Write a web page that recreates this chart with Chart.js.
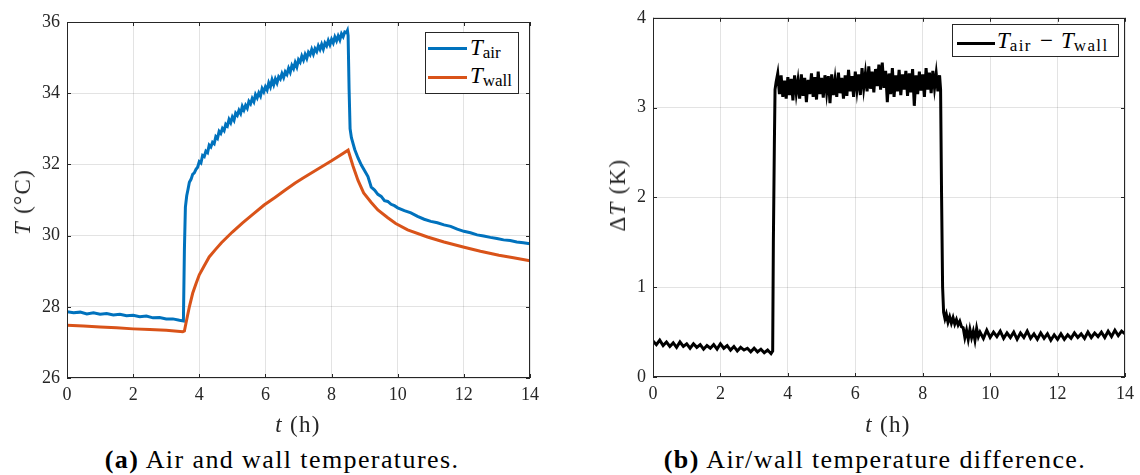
<!DOCTYPE html>
<html>
<head>
<meta charset="utf-8">
<script src="https://cdn.jsdelivr.net/npm/chart.js@4/dist/chart.umd.min.js"></script>
<style>
  html, body { margin: 0; padding: 0; background: #fff; }
  body { width: 1140px; height: 475px; position: relative; overflow: hidden;
         font-family: 'Liberation Serif', 'DejaVu Serif', serif; color: #262626; }
  .panel { position: absolute; top: 0; width: 560px; height: 430px; }
  .panel canvas { display: block; }
  .txt { position: absolute; white-space: nowrap; transform: translate(-50%, -50%); }
  .ytitle { transform: translate(-50%, -50%) rotate(-90deg); }
  .axt { font-size: 23px; letter-spacing: 1.3px; }
  .legend { position: absolute; background: #fff; border: 1px solid #262626; box-sizing: border-box; }
  .swatch { position: absolute; height: 3px; }
  .ltext { position: absolute; font-size: 23px; line-height: 1; white-space: nowrap; color: #000; }
  sub { font-size: 17px; font-style: normal; vertical-align: -3px; line-height: 0; }
  .wide sub { letter-spacing: 1.4px; }
  .minus { margin: 0 8px; }
  .caption { font-size: 26px; letter-spacing: 1.4px; color: #000; }
</style>
</head>
<body>

<div class="panel" style="left:0"><canvas id="chartA" width="560" height="430"></canvas></div>
<div class="panel" style="left:580px"><canvas id="chartB" width="560" height="430"></canvas></div>

<!-- axis titles -->
<div class="txt ytitle axt" style="left:23px; top:202px"><i>T</i> (°C)</div>
<div class="txt axt" style="left:298px; top:425px"><i>t</i> (h)</div>
<div class="txt ytitle axt" style="left:618px; top:195px">Δ<i>T</i> (K)</div>
<div class="txt axt" style="left:888px; top:425px"><i>t</i> (h)</div>

<!-- legends -->
<div class="legend" style="left:425px; top:32px; width:94px; height:62px"></div>
<div class="swatch" style="left:428px; top:47px; width:39px; background:#0072BD"></div>
<div class="ltext" style="left:470px; top:36px"><i>T</i><sub>air</sub></div>
<div class="swatch" style="left:428px; top:76px; width:39px; background:#D95319"></div>
<div class="ltext" style="left:470px; top:64px"><i>T</i><sub>wall</sub></div>

<div class="legend" style="left:952px; top:24px; width:167px; height:33px"></div>
<div class="swatch" style="left:957px; top:42px; width:38px; background:#000"></div>
<div class="ltext wide" style="left:997px; top:29px"><i>T</i><sub>air</sub><span class="minus">−</span><i>T</i><sub>wall</sub></div>

<!-- captions -->
<div class="txt caption" style="left:282px; top:460px"><b>(a)</b> Air and wall temperatures.</div>
<div class="txt caption" style="left:875px; top:460px"><b>(b)</b> Air/wall temperature difference.</div>

<script>
// ---- data ----
const xTickValues = [0, 2, 4, 6, 8, 10, 12, 14];
const tempTickValues = [26, 28, 30, 32, 34, 36];
const diffTickValues = [0, 1, 2, 3, 4];

// air temperature (h, degC)
const hoursAir = [
  0.0, 0.2, 0.4, 0.6, 0.8, 1.0, 1.2, 1.4, 1.6, 1.8, 2.0, 2.2, 2.4, 2.6, 2.8, 3.0, 3.2, 3.4, 3.52,
  3.55, 3.58, 3.62, 3.66, 3.7, 3.75, 3.8, 3.85, 3.9, 3.95,
  4.00, 4.05, 4.10, 4.15, 4.20, 4.25, 4.30, 4.35, 4.40, 4.45, 4.50, 4.55, 4.60, 4.65, 4.70, 4.75, 4.80, 4.85, 4.90, 4.95,
  5.00, 5.05, 5.10, 5.15, 5.20, 5.25, 5.30, 5.35, 5.40, 5.45, 5.50, 5.55, 5.60, 5.65, 5.70, 5.75, 5.80, 5.85, 5.90, 5.95,
  6.00, 6.05, 6.10, 6.15, 6.20, 6.25, 6.30, 6.35, 6.40, 6.45, 6.50, 6.55, 6.60, 6.65, 6.70, 6.75, 6.80, 6.85, 6.90, 6.95,
  7.00, 7.05, 7.10, 7.15, 7.20, 7.25, 7.30, 7.35, 7.40, 7.45, 7.50, 7.55, 7.60, 7.65, 7.70, 7.75, 7.80, 7.85, 7.90, 7.95,
  8.00, 8.05, 8.10, 8.15, 8.20, 8.25, 8.30, 8.35, 8.40, 8.45, 8.48, 8.50, 8.53, 8.56, 8.6, 8.7, 8.8, 8.9,
  9.0, 9.1, 9.2, 9.3, 9.4, 9.5, 9.6, 9.7, 9.8, 9.9, 10.0, 10.2, 10.4, 10.6, 10.8,
  11.0, 11.2, 11.4, 11.6, 11.8, 12.0, 12.2, 12.4, 12.6, 12.8, 13.0, 13.2, 13.4, 13.6, 13.8, 14.0
];
const tempAir = [
  27.86, 27.83, 27.85, 27.80, 27.83, 27.79, 27.81, 27.77, 27.79, 27.75, 27.76, 27.72, 27.74, 27.69, 27.70, 27.66, 27.66, 27.62, 27.60,
  29.60, 30.80, 31.12, 31.30, 31.50, 31.58, 31.72, 31.76, 31.86, 31.92,
  32.08, 32.04, 32.25, 32.22, 32.37, 32.33, 32.54, 32.49, 32.62, 32.58, 32.78, 32.73, 32.93, 32.87, 33.01, 32.95, 33.13, 33.08, 33.26, 33.17,
  33.33, 33.24, 33.44, 33.38, 33.52, 33.43, 33.63, 33.53, 33.66, 33.58, 33.77, 33.70, 33.85, 33.76, 33.96, 33.87, 34.01, 33.92, 34.13, 34.04,
  34.18, 34.09, 34.29, 34.18, 34.38, 34.24, 34.40, 34.29, 34.46, 34.40, 34.55, 34.44, 34.60, 34.53, 34.70, 34.59, 34.78, 34.69, 34.86, 34.74,
  34.94, 34.87, 35.04, 34.93, 35.09, 34.98, 35.15, 35.08, 35.23, 35.10, 35.25, 35.17, 35.33, 35.23, 35.37, 35.24, 35.41, 35.33, 35.48, 35.36,
  35.51, 35.41, 35.58, 35.47, 35.61, 35.50, 35.67, 35.59, 35.72, 35.70, 35.76, 35.62, 34.10, 33.00, 32.75, 32.42, 32.18, 31.98,
  31.82, 31.66, 31.36, 31.28, 31.16, 31.10, 30.98, 30.96, 30.88, 30.84, 30.78, 30.70, 30.64, 30.54, 30.46,
  30.40, 30.36, 30.30, 30.26, 30.18, 30.12, 30.08, 30.02, 29.99, 29.95, 29.92, 29.88, 29.86, 29.82, 29.80, 29.77
];

// wall temperature (h, degC)
const hoursWall = [
  0, 0.5, 1, 1.5, 2, 2.5, 3, 3.5, 3.55, 3.6, 3.7, 3.8, 3.9, 4.0, 4.13, 4.3, 4.5, 4.67, 5.0, 5.31, 5.6,
  5.96, 6.3, 6.6, 6.9, 7.14, 7.5, 8.0, 8.25, 8.5, 8.55, 8.65, 8.8, 8.97, 9.2, 9.4, 9.7, 9.94, 10.3,
  10.9, 11.4, 11.98, 12.5, 13.06, 13.5, 14
];
const tempWall = [
  27.48, 27.46, 27.43, 27.41, 27.38, 27.36, 27.34, 27.30, 27.32, 27.55, 28.00, 28.38, 28.65, 28.90, 29.12, 29.40, 29.62, 29.80, 30.10, 30.36, 30.58,
  30.86, 31.08, 31.28, 31.48, 31.62, 31.82, 32.10, 32.25, 32.40, 32.25, 31.95, 31.55, 31.20, 30.93, 30.72, 30.50, 30.34, 30.16,
  29.96, 29.82, 29.68, 29.56, 29.45, 29.38, 29.29
];

// air/wall difference (h, K)
const hoursDiff = [
  0.0, 0.1, 0.2, 0.3, 0.4, 0.5, 0.6, 0.7, 0.8, 0.9, 1.0, 1.1, 1.2, 1.3, 1.4, 1.5, 1.6, 1.7, 1.8, 1.9,
  2.0, 2.1, 2.2, 2.3, 2.4, 2.5, 2.6, 2.7, 2.8, 2.9, 3.0, 3.1, 3.2, 3.3, 3.4, 3.5, 3.55, 3.57, 3.6, 3.62,
  3.65, 3.70, 3.75, 3.80, 3.85, 3.90, 3.95, 4.00, 4.05, 4.10, 4.15, 4.20, 4.25, 4.30, 4.35, 4.40, 4.45, 4.50,
  4.55, 4.60, 4.65, 4.70, 4.75, 4.80, 4.85, 4.90, 4.95, 5.00, 5.05, 5.10, 5.15, 5.20, 5.25, 5.30, 5.35, 5.40,
  5.45, 5.50, 5.55, 5.60, 5.65, 5.70, 5.75, 5.80, 5.85, 5.90, 5.95, 6.00, 6.05, 6.10, 6.15, 6.20, 6.25, 6.30,
  6.35, 6.40, 6.45, 6.50, 6.55, 6.60, 6.65, 6.70, 6.75, 6.80, 6.85, 6.90, 6.95, 7.00, 7.05, 7.10, 7.15, 7.20,
  7.25, 7.30, 7.35, 7.40, 7.45, 7.50, 7.55, 7.60, 7.65, 7.70, 7.75, 7.80, 7.85, 7.90, 7.95, 8.00, 8.05, 8.10,
  8.15, 8.20, 8.25, 8.30, 8.35, 8.40, 8.45, 8.50, 8.53, 8.56, 8.59, 8.62, 8.66,
  8.7, 8.75, 8.8, 8.85, 8.9, 8.95, 9.0, 9.05, 9.1, 9.15, 9.2, 9.25, 9.3, 9.35, 9.4, 9.45, 9.5, 9.55, 9.6, 9.65,
  9.7, 9.8, 9.9, 10.0, 10.1, 10.2, 10.3, 10.4, 10.5, 10.6, 10.7, 10.8, 10.9, 11.0, 11.1, 11.2, 11.3, 11.4,
  11.5, 11.6, 11.7, 11.8, 11.9, 12.0, 12.1, 12.2, 12.3, 12.4, 12.5, 12.6, 12.7, 12.8, 12.9, 13.0, 13.1, 13.2,
  13.3, 13.4, 13.5, 13.6, 13.7, 13.8, 13.9, 14.0
];
const tempDiff = [
  0.40, 0.36, 0.41, 0.35, 0.39, 0.34, 0.38, 0.33, 0.39, 0.34, 0.37, 0.32, 0.37, 0.33, 0.36, 0.31, 0.35, 0.32, 0.36, 0.31,
  0.37, 0.32, 0.35, 0.30, 0.34, 0.29, 0.33, 0.30, 0.32, 0.28, 0.32, 0.28, 0.31, 0.27, 0.30, 0.26, 0.29, 1.50, 2.60, 3.20,
  3.28, 3.38, 3.15, 3.36, 3.12, 3.30, 3.10, 3.34, 3.14, 3.32, 3.08, 3.36, 3.16, 3.30, 3.10, 3.37, 3.13, 3.33,
  3.06, 3.31, 3.15, 3.38, 3.12, 3.34, 3.09, 3.40, 3.15, 3.33, 3.11, 3.36, 3.17, 3.35, 3.05, 3.37, 3.14, 3.31,
  3.12, 3.39, 3.16, 3.33, 3.10, 3.36, 3.13, 3.42, 3.18, 3.35, 3.12, 3.40, 3.20, 3.37, 3.14, 3.44, 3.22, 3.38,
  3.18, 3.46, 3.21, 3.40, 3.17, 3.43, 3.24, 3.48, 3.20, 3.50, 3.22, 3.41, 3.06, 3.38, 3.15, 3.44, 3.12, 3.36,
  3.18, 3.42, 3.14, 3.37, 3.20, 3.41, 3.13, 3.38, 3.17, 3.43, 3.02, 3.36, 3.15, 3.40, 3.19, 3.37, 3.12, 3.44,
  3.20, 3.39, 3.16, 3.41, 3.22, 3.38, 3.18, 3.36, 3.20, 2.00, 1.00, 0.72, 0.65,
  0.70, 0.61, 0.67, 0.60, 0.66, 0.59, 0.64, 0.58, 0.62, 0.56, 0.55, 0.44, 0.52, 0.42, 0.53, 0.44, 0.51, 0.41, 0.54, 0.45,
  0.50, 0.43, 0.52, 0.44, 0.50, 0.45, 0.51, 0.43, 0.49, 0.44, 0.50, 0.42, 0.49, 0.44, 0.51, 0.43, 0.48, 0.42,
  0.49, 0.43, 0.48, 0.41, 0.47, 0.42, 0.48, 0.42, 0.47, 0.43, 0.49, 0.44, 0.48, 0.43, 0.50, 0.44, 0.49, 0.45,
  0.50, 0.44, 0.51, 0.45, 0.52, 0.46, 0.51, 0.48
];

// ---- rendering ----
const AXIS_COLOR = "#262626";
const GRID_COLOR = "rgba(38,38,38,0.13)";

Chart.defaults.font.family = "'Liberation Serif', 'DejaVu Serif', serif";
Chart.defaults.font.size = 18;
Chart.defaults.color = AXIS_COLOR;

function points(xs, ys) {
    return xs.map((x, i) => ({ x, y: ys[i] }));
}

// MATLAB-style box with short inward ticks on all four sides
const framePlugin = {
    id: "frame",
    afterDraw(chart) {
        const { ctx, chartArea: a, scales } = chart;
        ctx.save();
        ctx.strokeStyle = AXIS_COLOR;
        ctx.lineWidth = 1;
        ctx.strokeRect(Math.round(a.left) + 0.5, Math.round(a.top) + 0.5,
                       Math.round(a.width) - 1, Math.round(a.height) - 1);
        const len = 4;
        ctx.beginPath();
        scales.x.ticks.forEach(t => {
            const px = Math.round(scales.x.getPixelForValue(t.value)) + 0.5;
            ctx.moveTo(px, a.bottom); ctx.lineTo(px, a.bottom - len);
            ctx.moveTo(px, a.top); ctx.lineTo(px, a.top + len);
        });
        scales.y.ticks.forEach(t => {
            const py = Math.round(scales.y.getPixelForValue(t.value)) + 0.5;
            ctx.moveTo(a.left, py); ctx.lineTo(a.left + len, py);
            ctx.moveTo(a.right, py); ctx.lineTo(a.right - len, py);
        });
        ctx.stroke();
        ctx.restore();
    }
};

function lineSet(data, color) {
    return {
        data, borderColor: color, borderWidth: 3,
        pointRadius: 0, tension: 0, fill: false
    };
}

function makeOptions(yMin, yMax, yTicks, pad, yWidth, xHeight) {
    return {
        responsive: false,
        animation: false,
        layout: { padding: pad },
        plugins: { legend: { display: false }, tooltip: { enabled: false } },
        scales: {
            x: {
                type: "linear", min: 0, max: 14,
                afterBuildTicks: s => { s.ticks = xTickValues.map(v => ({ value: v })); },
                afterFit: s => { s.height = xHeight; },
                grid: { color: GRID_COLOR, drawTicks: false },
                border: { display: false },
                ticks: { padding: 6, maxRotation: 0 }
            },
            y: {
                type: "linear", min: yMin, max: yMax,
                afterBuildTicks: s => { s.ticks = yTicks.map(v => ({ value: v })); },
                afterFit: s => { s.width = yWidth; },
                grid: { color: GRID_COLOR, drawTicks: false },
                border: { display: false },
                ticks: { padding: 7 }
            }
        }
    };
}

new Chart(document.getElementById("chartA"), {
    type: "line",
    data: {
        datasets: [
            lineSet(points(hoursWall, tempWall), "#D95319"),
            lineSet(points(hoursAir, tempAir), "#0072BD")
        ]
    },
    options: makeOptions(26, 36, tempTickValues, { top: 22, right: 30, left: 0, bottom: 0 }, 67, 52),
    plugins: [framePlugin]
});

new Chart(document.getElementById("chartB"), {
    type: "line",
    data: {
        datasets: [lineSet(points(hoursDiff, tempDiff), "#000000")]
    },
    options: makeOptions(0, 4, diffTickValues, { top: 14, right: 15, left: 0, bottom: 0 }, 73, 53),
    plugins: [framePlugin]
});
</script>
</body>
</html>
